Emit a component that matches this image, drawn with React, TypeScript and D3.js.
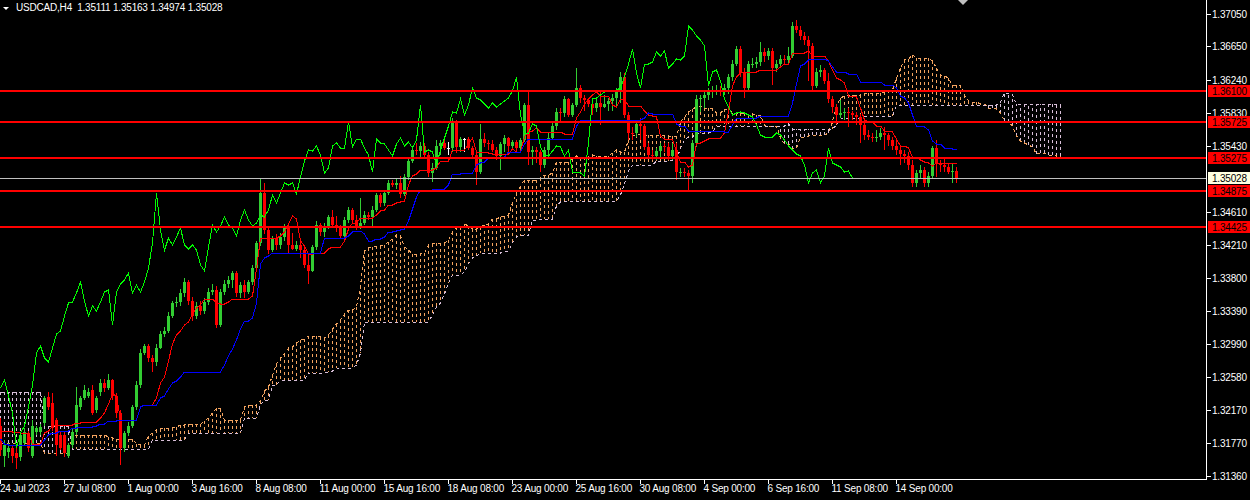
import React, { useEffect, useRef } from 'react';
import * as d3 from 'd3';

const WIDTH = 1250;
const HEIGHT = 500;
const PLOT_RIGHT = 1206;
const PLOT_BOTTOM = 479;

const BULL = '#32CD32';
const BEAR = '#FF0000';
const DOJI = '#FFFFFF';
const SANDY = '#F4A460';
const THISTLE = '#D8BFD8';
const AXIS = '#FFFFFF';
const FONT = '"Liberation Sans", Arial, sans-serif';
const DOT = '3 3';

const symbolTitle = 'USDCAD,H4  1.35111 1.35163 1.34974 1.35028';

// H4 candles, 24 Jul 2023 -> 18 Sep 2023
const opens = [
  1.3198, 1.3161, 1.3165, 1.3171, 1.3164, 1.3159, 1.3177, 1.3189, 1.3161, 1.319,
  1.319, 1.3201, 1.3233, 1.3226, 1.3205, 1.3186, 1.3186, 1.3161, 1.3174, 1.319,
  1.3221, 1.3232, 1.3235, 1.3242, 1.3217, 1.3239, 1.3251, 1.3244, 1.3254, 1.3235,
  1.3213, 1.317, 1.3189, 1.3198, 1.3221, 1.3248, 1.3288, 1.3296, 1.3281, 1.3276,
  1.3294, 1.3311, 1.3315, 1.3333, 1.3349, 1.335, 1.3361, 1.3375, 1.3352, 1.3333,
  1.3345, 1.3339, 1.335, 1.3363, 1.3365, 1.3322, 1.3362, 1.3372, 1.3377, 1.3386,
  1.3361, 1.3371, 1.3362, 1.3375, 1.3392, 1.3423, 1.3485, 1.3439, 1.3414, 1.3429,
  1.342, 1.343, 1.3442, 1.342, 1.3416, 1.3421, 1.3414, 1.3396, 1.3389, 1.3418,
  1.3445, 1.3436, 1.3444, 1.3455, 1.3445, 1.3441, 1.3432, 1.3451, 1.3463, 1.3451,
  1.3444, 1.3448, 1.3457, 1.3455, 1.3463, 1.3482, 1.3472, 1.3484, 1.3497, 1.3495,
  1.3497, 1.3483, 1.3504, 1.3524, 1.3537, 1.3536, 1.3542, 1.3531, 1.3509, 1.3515,
  1.3543, 1.3546, 1.354, 1.354, 1.3572, 1.3541, 1.3551, 1.3551, 1.354, 1.3531,
  1.351, 1.3551, 1.3546, 1.3545, 1.3538, 1.353, 1.3545, 1.3552, 1.3542, 1.3547,
  1.354, 1.355, 1.3593, 1.3535, 1.3537, 1.3535, 1.3519, 1.3537, 1.3552, 1.3567,
  1.3584, 1.3583, 1.36, 1.358, 1.3593, 1.3614, 1.3601, 1.3599, 1.3594, 1.3589,
  1.3595, 1.3591, 1.3594, 1.3598, 1.3602, 1.361, 1.3628, 1.358, 1.3559, 1.3558,
  1.357, 1.3567, 1.3541, 1.3531, 1.353, 1.3536, 1.3542, 1.3541, 1.353, 1.3537,
  1.351, 1.3511, 1.3509, 1.3505, 1.3546, 1.36, 1.3601, 1.3605, 1.3609, 1.3611,
  1.3612, 1.3611, 1.3614, 1.3627, 1.3644, 1.3662, 1.3632, 1.3614, 1.3643, 1.3644,
  1.3646, 1.3658, 1.3653, 1.3659, 1.3638, 1.3644, 1.3649, 1.3648, 1.3653, 1.369,
  1.3685, 1.3678, 1.3673, 1.3665, 1.3616, 1.3633, 1.3636, 1.3623, 1.36, 1.359,
  1.358, 1.3583, 1.3584, 1.3583, 1.358, 1.3578, 1.3568, 1.3556, 1.3554, 1.3553,
  1.3554, 1.3558, 1.3556, 1.355, 1.3543, 1.3537, 1.3532, 1.353, 1.3519, 1.3497,
  1.3509, 1.3513, 1.3497, 1.3506, 1.354, 1.3521, 1.3519, 1.3516, 1.3511, 1.35111,
];

const highs = [
  1.3207, 1.318, 1.3177, 1.3174, 1.317, 1.319, 1.3195, 1.3192, 1.3205, 1.3198,
  1.32, 1.3234, 1.3239, 1.3238, 1.3207, 1.319, 1.3192, 1.3177, 1.3195, 1.3245,
  1.3235, 1.3248, 1.3244, 1.3248, 1.3235, 1.3256, 1.3255, 1.3262, 1.3256, 1.3238,
  1.3217, 1.3192, 1.3203, 1.3224, 1.3253, 1.3293, 1.3299, 1.3298, 1.3285, 1.3298,
  1.3315, 1.332, 1.3338, 1.3352, 1.3356, 1.3366, 1.338, 1.3378, 1.3356, 1.335,
  1.3351, 1.3355, 1.3368, 1.3372, 1.337, 1.3366, 1.3377, 1.3382, 1.3389, 1.3388,
  1.3375, 1.3377, 1.3378, 1.3396, 1.3426, 1.3503, 1.3497, 1.3442, 1.3432, 1.3434,
  1.3435, 1.3446, 1.3446, 1.3435, 1.3426, 1.3425, 1.3418, 1.341, 1.3421, 1.345,
  1.3448, 1.3447, 1.3458, 1.3463, 1.3456, 1.3445, 1.3455, 1.3467, 1.3466, 1.3457,
  1.3479, 1.3462, 1.3461, 1.3468, 1.3485, 1.3485, 1.3488, 1.35, 1.35, 1.3503,
  1.3505, 1.3508, 1.3529, 1.3543, 1.3546, 1.3547, 1.3546, 1.3535, 1.3521, 1.355,
  1.355, 1.355, 1.3547, 1.3577, 1.3574, 1.3554, 1.3552, 1.3554, 1.3543, 1.3535,
  1.357, 1.3558, 1.355, 1.355, 1.3541, 1.3547, 1.3556, 1.3554, 1.355, 1.355,
  1.3552, 1.3595, 1.3609, 1.3542, 1.3541, 1.3537, 1.3541, 1.3558, 1.3572, 1.3589,
  1.3589, 1.3604, 1.3602, 1.3596, 1.3639, 1.3617, 1.3605, 1.3602, 1.3602, 1.36,
  1.3609, 1.3605, 1.3602, 1.3606, 1.3614, 1.3633, 1.3632, 1.3584, 1.3566, 1.3574,
  1.3577, 1.3569, 1.3546, 1.3537, 1.354, 1.3546, 1.3546, 1.3546, 1.3546, 1.3546,
  1.3515, 1.3515, 1.3513, 1.355, 1.3605, 1.3605, 1.3609, 1.3614, 1.3616, 1.3617,
  1.3616, 1.3619, 1.3631, 1.3648, 1.3665, 1.3665, 1.3639, 1.3647, 1.3651, 1.3652,
  1.367, 1.3663, 1.3663, 1.3663, 1.3648, 1.3654, 1.3654, 1.3664, 1.3695, 1.3697,
  1.369, 1.3683, 1.3678, 1.3669, 1.3639, 1.3642, 1.3639, 1.3632, 1.3604, 1.3594,
  1.3599, 1.3589, 1.3589, 1.3586, 1.3584, 1.3582, 1.3572, 1.3562, 1.3559, 1.3562,
  1.3564, 1.3566, 1.3559, 1.3554, 1.355, 1.3542, 1.3537, 1.3535, 1.3525, 1.3513,
  1.3519, 1.3517, 1.351, 1.3543, 1.355, 1.3525, 1.3527, 1.352, 1.3521, 1.35163,
];

const lows = [
  1.3161, 1.3147, 1.3158, 1.3152, 1.3145, 1.3155, 1.3174, 1.3165, 1.3158, 1.3187,
  1.3186, 1.3197, 1.3217, 1.3192, 1.3161, 1.3168, 1.316, 1.3158, 1.3171, 1.3187,
  1.3217, 1.3229, 1.3232, 1.3211, 1.3213, 1.3234, 1.3239, 1.3242, 1.323, 1.3207,
  1.3149, 1.3165, 1.3185, 1.3195, 1.3217, 1.3244, 1.3285, 1.3277, 1.3264, 1.3272,
  1.3292, 1.3307, 1.3312, 1.333, 1.3344, 1.3345, 1.3357, 1.3347, 1.3327, 1.3329,
  1.3334, 1.3335, 1.3346, 1.3359, 1.3318, 1.3319, 1.3359, 1.3367, 1.3368, 1.3357,
  1.3355, 1.3355, 1.336, 1.3371, 1.3389, 1.3419, 1.3434, 1.3409, 1.3412, 1.3414,
  1.3415, 1.3426, 1.341, 1.3414, 1.3413, 1.3405, 1.3392, 1.3372, 1.3387, 1.3414,
  1.3432, 1.343, 1.344, 1.3441, 1.3437, 1.3429, 1.3429, 1.3448, 1.3447, 1.3439,
  1.344, 1.3445, 1.3451, 1.3441, 1.3461, 1.3467, 1.3469, 1.3482, 1.3492, 1.349,
  1.3478, 1.3481, 1.3501, 1.3521, 1.3531, 1.3527, 1.3527, 1.3504, 1.3498, 1.3513,
  1.3531, 1.3537, 1.3531, 1.3535, 1.3534, 1.3535, 1.3535, 1.3537, 1.3527, 1.3494,
  1.3508, 1.3541, 1.3537, 1.3535, 1.3525, 1.3513, 1.3535, 1.3535, 1.3537, 1.3535,
  1.3537, 1.3547, 1.3519, 1.3519, 1.3521, 1.351, 1.3515, 1.3529, 1.355, 1.3562,
  1.3572, 1.3578, 1.3578, 1.3578, 1.359, 1.3596, 1.3586, 1.359, 1.358, 1.3584,
  1.3568, 1.3589, 1.3586, 1.3586, 1.359, 1.3595, 1.3577, 1.355, 1.355, 1.3554,
  1.355, 1.3537, 1.3527, 1.3525, 1.3525, 1.3529, 1.3535, 1.3525, 1.3525, 1.35,
  1.3504, 1.3504, 1.3488, 1.3497, 1.3541, 1.3584, 1.3589, 1.3599, 1.3602, 1.3605,
  1.3604, 1.3605, 1.3607, 1.3623, 1.3641, 1.3628, 1.3601, 1.3609, 1.3638, 1.3638,
  1.3641, 1.3646, 1.3648, 1.3617, 1.3633, 1.3641, 1.3642, 1.3644, 1.3651, 1.3681,
  1.3673, 1.3667, 1.3623, 1.3609, 1.3614, 1.3627, 1.3619, 1.3596, 1.3583, 1.357,
  1.3577, 1.3575, 1.3566, 1.3574, 1.3568, 1.3546, 1.355, 1.355, 1.3547, 1.3547,
  1.355, 1.3537, 1.3543, 1.3537, 1.3531, 1.3519, 1.3522, 1.3513, 1.3492, 1.3492,
  1.3503, 1.3492, 1.3492, 1.3503, 1.3504, 1.351, 1.3511, 1.3508, 1.3497, 1.34974,
];

const closes = [
  1.3168, 1.3174, 1.3171, 1.3161, 1.3158, 1.3186, 1.319, 1.317, 1.3198, 1.3195,
  1.3196, 1.3232, 1.3221, 1.3195, 1.3174, 1.3171, 1.3164, 1.3174, 1.319, 1.3223,
  1.3232, 1.3242, 1.3239, 1.3214, 1.3232, 1.3251, 1.3244, 1.3254, 1.3235, 1.3213,
  1.317, 1.3189, 1.3198, 1.3221, 1.3248, 1.3288, 1.3296, 1.3281, 1.3276, 1.3294,
  1.3311, 1.3315, 1.3333, 1.3349, 1.335, 1.3361, 1.3375, 1.3352, 1.3333, 1.3345,
  1.3339, 1.335, 1.3363, 1.3365, 1.3322, 1.3362, 1.3372, 1.3377, 1.3386, 1.3361,
  1.3371, 1.3362, 1.3375, 1.3392, 1.3423, 1.3485, 1.3439, 1.3414, 1.3429, 1.342,
  1.343, 1.3442, 1.342, 1.3416, 1.3421, 1.3414, 1.3396, 1.3389, 1.3418, 1.3445,
  1.3436, 1.3444, 1.3455, 1.3445, 1.3441, 1.3432, 1.3451, 1.3463, 1.3451, 1.3444,
  1.3448, 1.3457, 1.3455, 1.3463, 1.3482, 1.3472, 1.3484, 1.3497, 1.3495, 1.3497,
  1.3483, 1.3504, 1.3524, 1.3537, 1.3536, 1.3542, 1.3531, 1.3509, 1.3515, 1.3543,
  1.3546, 1.354, 1.354, 1.3572, 1.3541, 1.3551, 1.3551, 1.354, 1.3531, 1.351,
  1.3551, 1.3546, 1.3545, 1.3538, 1.353, 1.3545, 1.3552, 1.3542, 1.3547, 1.354,
  1.355, 1.3593, 1.3535, 1.3537, 1.3535, 1.3519, 1.3537, 1.3552, 1.3567, 1.3584,
  1.3583, 1.36, 1.358, 1.3593, 1.3614, 1.3601, 1.3599, 1.3594, 1.3589, 1.3595,
  1.3591, 1.3594, 1.3598, 1.3602, 1.361, 1.3628, 1.358, 1.3559, 1.3558, 1.357,
  1.3567, 1.3541, 1.3531, 1.353, 1.3536, 1.3542, 1.3541, 1.353, 1.3537, 1.351,
  1.3511, 1.3509, 1.3505, 1.3546, 1.36, 1.3601, 1.3605, 1.3609, 1.3611, 1.3612,
  1.3611, 1.3614, 1.3627, 1.3644, 1.3662, 1.3632, 1.3614, 1.3643, 1.3644, 1.3646,
  1.3658, 1.3653, 1.3659, 1.3638, 1.3644, 1.3649, 1.3648, 1.3653, 1.369, 1.3685,
  1.3678, 1.3673, 1.3665, 1.3616, 1.3633, 1.3636, 1.3623, 1.36, 1.359, 1.358,
  1.3583, 1.3584, 1.3583, 1.358, 1.3578, 1.3568, 1.3556, 1.3554, 1.3553, 1.3554,
  1.3558, 1.3556, 1.355, 1.3543, 1.3537, 1.3532, 1.353, 1.3519, 1.3497, 1.3509,
  1.3513, 1.3497, 1.3506, 1.354, 1.3521, 1.3519, 1.3516, 1.3511, 1.35111, 1.35028,
];

// Ichimoku values for the first bars, whose history lies left of the window
const tenkanLead = [1.3191, 1.3191, 1.3191, 1.319, 1.319, 1.3189, 1.3189, 1.3189];
const kijunLead = [
  1.3182, 1.3176, 1.3174, 1.3174, 1.3174, 1.3174, 1.3174, 1.3174, 1.3174, 1.3174,
  1.3174, 1.318, 1.3186, 1.3189, 1.3189, 1.3192, 1.3192, 1.3192, 1.3195, 1.3195,
  1.3196, 1.3196, 1.3196, 1.3196, 1.3198,
];
const spanALead = [
  1.3177, 1.3177, 1.3177, 1.3177, 1.3177, 1.3177, 1.3177, 1.3177, 1.3177, 1.3177,
  1.3177, 1.3164, 1.3164, 1.3164, 1.3164, 1.3164, 1.3164, 1.3164, 1.3187, 1.3187,
  1.3187, 1.3187, 1.3187, 1.3187, 1.3187, 1.3187,
];
const spanBLead = [
  1.3239, 1.3239, 1.3239, 1.3239, 1.3239, 1.3239, 1.3239, 1.3239, 1.3239, 1.3239,
  1.3239, 1.3198, 1.3198, 1.3198, 1.3198, 1.3198, 1.3198, 1.3198, 1.3169, 1.3169,
  1.3169, 1.3169, 1.3169, 1.3169, 1.3169, 1.3169, 1.3169, 1.3169, 1.3169, 1.3169,
  1.3169, 1.3169, 1.3169, 1.3169, 1.3169, 1.3169, 1.3169, 1.3169, 1.318, 1.318,
  1.318, 1.318, 1.318, 1.318, 1.318, 1.318, 1.318, 1.3189, 1.3189, 1.3189,
  1.3189, 1.3189, 1.3189, 1.3189, 1.3189, 1.3189, 1.3189, 1.3189, 1.3189, 1.3189,
  1.3189, 1.3208, 1.3208, 1.3208, 1.3208, 1.3223, 1.3229, 1.3229, 1.3248, 1.3248,
  1.3254, 1.3254, 1.3254, 1.3254, 1.3254, 1.3254, 1.3254,
];

const levelPrices = [1.361, 1.35725, 1.35275, 1.34875, 1.34425];
const bidPrice = 1.35028;

const priceTicks = [
  1.3705, 1.3665, 1.3624, 1.3583, 1.3543, 1.3461, 1.3421,
  1.338, 1.3339, 1.3299, 1.3258, 1.3217, 1.3177, 1.3136,
];

const timeTickBars = [0, 16, 32, 48, 64, 80, 96, 112, 128, 144, 160, 176, 192, 208, 224];
const timeTickLabels = [
  '24 Jul 2023', '27 Jul 08:00', '1 Aug 00:00', '3 Aug 16:00', '8 Aug 08:00',
  '11 Aug 00:00', '15 Aug 16:00', '18 Aug 08:00', '23 Aug 00:00', '25 Aug 16:00',
  '30 Aug 08:00', '4 Sep 00:00', '6 Sep 16:00', '11 Sep 08:00', '14 Sep 00:00',
];

const TENKAN = 9;
const KIJUN = 26;
const SENKOU = 52;

const midRange = (from: number, to: number) => {
  const hi = d3.max(highs.slice(from, to + 1)) as number;
  const lo = d3.min(lows.slice(from, to + 1)) as number;
  return (hi + lo) / 2;
};

const bars = d3.range(closes.length);
const tenkan = bars.map(i => (i < TENKAN - 1 ? tenkanLead[i] : midRange(i - TENKAN + 1, i)));
const kijun = bars.map(i => (i < KIJUN - 1 ? kijunLead[i] : midRange(i - KIJUN + 1, i)));
const cloudBars = d3.range(closes.length + KIJUN);
const spanA = cloudBars.map(i => (i < KIJUN ? spanALead[i] : (tenkan[i - KIJUN] + kijun[i - KIJUN]) / 2));
const spanB = cloudBars.map(i =>
  i < KIJUN + SENKOU - 1 ? spanBLead[i] : midRange(i - KIJUN - SENKOU + 1, i - KIJUN)
);
const chikouBars = bars.filter(i => i >= KIJUN);

const App: React.FC = () => {
  const svgRef = useRef<SVGSVGElement>(null);

  useEffect(() => {
    if (!svgRef.current) return;
    const svg = d3.select(svgRef.current);
    svg.selectAll('*').remove();

    // 4px per bar, like MT4 at this zoom
    const x = d3.scaleLinear().domain([0, 1]).range([0.5, 4.5]);
    const y = d3.scaleLinear().domain([1.3136, 1.3705]).range([476, 14]);
    const ry = (p: number) => Math.round(y(p));
    const fmt = d3.format('.5f');

    svg.append('rect').attr('width', WIDTH).attr('height', HEIGHT).attr('fill', '#000000');

    const plot = svg.append('g').attr('shape-rendering', 'crispEdges');

    // Kumo hatch
    plot.append('g')
      .selectAll('line')
      .data(cloudBars)
      .join('line')
      .attr('x1', i => x(i))
      .attr('x2', i => x(i))
      .attr('y1', i => ry(spanA[i]))
      .attr('y2', i => ry(spanB[i]))
      .attr('stroke', i => (spanA[i] >= spanB[i] ? SANDY : THISTLE))
      .attr('stroke-width', 1)
      .attr('stroke-dasharray', DOT);

    const lineOf = (vals: number[]) => d3.line<number>().x(i => x(i)).y(i => ry(vals[i]));

    plot.append('path')
      .attr('d', lineOf(spanA)(cloudBars))
      .attr('fill', 'none')
      .attr('stroke', SANDY)
      .attr('stroke-dasharray', DOT);

    plot.append('path')
      .attr('d', lineOf(spanB)(cloudBars))
      .attr('fill', 'none')
      .attr('stroke', THISTLE)
      .attr('stroke-dasharray', DOT);

    // candles
    const candleColor = (i: number) =>
      closes[i] > opens[i] ? BULL : closes[i] < opens[i] ? BEAR : DOJI;

    const candles = plot.append('g');
    candles.selectAll('rect.wick')
      .data(bars)
      .join('rect')
      .attr('class', 'wick')
      .attr('x', i => x(i) - 0.5)
      .attr('width', 1)
      .attr('y', i => ry(highs[i]))
      .attr('height', i => Math.max(1, ry(lows[i]) - ry(highs[i])))
      .attr('fill', candleColor);

    candles.selectAll('rect.body')
      .data(bars)
      .join('rect')
      .attr('class', 'body')
      .attr('x', i => x(i) - 1.5)
      .attr('width', 3)
      .attr('y', i => ry(Math.max(opens[i], closes[i])))
      .attr('height', i => Math.max(1, ry(Math.min(opens[i], closes[i])) - ry(Math.max(opens[i], closes[i]))))
      .attr('fill', candleColor);

    // Tenkan, Kijun, Chikou
    plot.append('path')
      .attr('d', lineOf(tenkan)(bars))
      .attr('fill', 'none')
      .attr('stroke', '#FF0000');

    plot.append('path')
      .attr('d', lineOf(kijun)(bars))
      .attr('fill', 'none')
      .attr('stroke', '#0000FF');

    plot.append('path')
      .attr('d', d3.line<number>().x(i => x(i - KIJUN)).y(i => ry(closes[i]))(chikouBars))
      .attr('fill', 'none')
      .attr('stroke', '#00FF00');

    // bid line and horizontal levels
    plot.append('rect')
      .attr('x', 0)
      .attr('y', ry(bidPrice))
      .attr('width', PLOT_RIGHT)
      .attr('height', 1)
      .attr('fill', '#C0C0C0');

    plot.append('g')
      .selectAll('rect')
      .data(levelPrices)
      .join('rect')
      .attr('x', 0)
      .attr('y', d => ry(d) - 1)
      .attr('width', PLOT_RIGHT)
      .attr('height', 2)
      .attr('fill', '#FF0000');

    // frame
    plot.append('rect').attr('x', PLOT_RIGHT).attr('y', 0).attr('width', 1).attr('height', PLOT_BOTTOM + 1).attr('fill', AXIS);
    plot.append('rect').attr('x', 0).attr('y', PLOT_BOTTOM).attr('width', PLOT_RIGHT + 1).attr('height', 1).attr('fill', AXIS);

    // price axis
    const priceAxis = svg.append('g');
    priceAxis.selectAll('rect')
      .data(priceTicks)
      .join('rect')
      .attr('x', PLOT_RIGHT + 1)
      .attr('y', d => ry(d))
      .attr('width', 4)
      .attr('height', 1)
      .attr('fill', AXIS)
      .attr('shape-rendering', 'crispEdges');

    priceAxis.selectAll('text')
      .data(priceTicks)
      .join('text')
      .attr('x', PLOT_RIGHT + 6)
      .attr('y', d => ry(d) + 4)
      .attr('fill', AXIS)
      .style('font-family', FONT)
      .style('font-size', '10px')
      .style('letter-spacing', '-0.2px')
      .text(d => fmt(d));

    // level labels
    const tags = svg.append('g');
    const tagData = [
      ...levelPrices.map(p => ({ p, bg: '#FF0000', fg: '#000000' })),
      { p: bidPrice, bg: '#FFFFE0', fg: '#000000' },
    ];
    tags.selectAll('rect')
      .data(tagData)
      .join('rect')
      .attr('x', PLOT_RIGHT + 2)
      .attr('y', d => ry(d.p) - 6)
      .attr('width', WIDTH - PLOT_RIGHT - 2)
      .attr('height', 12)
      .attr('fill', d => d.bg)
      .attr('shape-rendering', 'crispEdges');

    tags.selectAll('text')
      .data(tagData)
      .join('text')
      .attr('x', PLOT_RIGHT + 6)
      .attr('y', d => ry(d.p) + 4)
      .attr('fill', d => d.fg)
      .style('font-family', FONT)
      .style('font-size', '10px')
      .style('letter-spacing', '-0.2px')
      .text(d => fmt(d.p));

    // time axis
    const timeAxis = svg.append('g');
    timeAxis.selectAll('rect')
      .data(timeTickBars)
      .join('rect')
      .attr('x', b => x(b) - 0.5)
      .attr('y', PLOT_BOTTOM + 1)
      .attr('width', 1)
      .attr('height', 4)
      .attr('fill', AXIS)
      .attr('shape-rendering', 'crispEdges');

    timeAxis.selectAll('text')
      .data(timeTickBars)
      .join('text')
      .attr('x', b => (b === 0 ? 0 : x(b) - 1))
      .attr('y', 492)
      .attr('fill', AXIS)
      .style('font-family', FONT)
      .style('font-size', '10px')
      .style('letter-spacing', '-0.2px')
      .text((_, k) => timeTickLabels[k]);

    // title and markers
    svg.append('polygon').attr('points', '3,7 9,7 6,10').attr('fill', AXIS);
    svg.append('text')
      .attr('x', 16)
      .attr('y', 11)
      .attr('fill', AXIS)
      .style('font-family', FONT)
      .style('font-size', '10px')
      .style('letter-spacing', '-0.2px')
      .style('white-space', 'pre')
      .text(symbolTitle);

    svg.append('polygon').attr('points', '958,0 968,0 963,5').attr('fill', '#C0C0C0');
  }, []);

  return (
    <div style={{ width: WIDTH, height: HEIGHT, background: '#000000' }}>
      <style>{'html, body { margin: 0; padding: 0; background: #000000; }'}</style>
      <svg ref={svgRef} width={WIDTH} height={HEIGHT} style={{ display: 'block' }} />
    </div>
  );
};

export default App;
